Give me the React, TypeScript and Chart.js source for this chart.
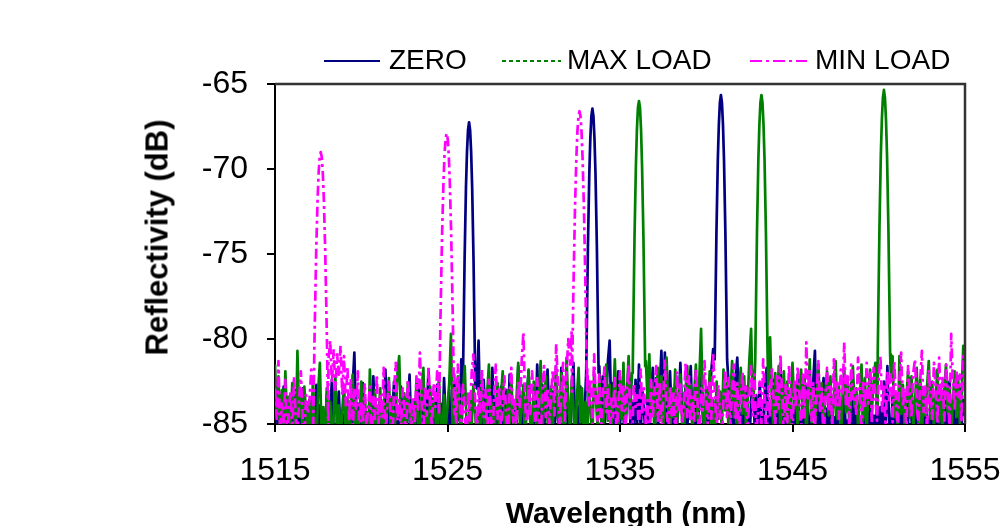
import { useEffect, useRef } from 'react'
import { Chart, registerables } from 'chart.js'

Chart.register(...registerables)

const FONT = 'Liberation Sans, Arial, Helvetica, sans-serif'

// noise traces are sampled every 0.1 nm starting at 1515 nm
const WL_START = 1515
const WL_STEP = 0.1

const xTicks = [1515, 1525, 1535, 1545, 1555]
const yTicks = [-85, -80, -75, -70, -65]

const zeroNoise = [
  -84.9, -83.4, -86.2, -84.1, -85.6, -82.8, -85.0, -86.4, -83.7, -85.3, -84.5, -86.1, -83.0, -85.8, -84.3, -86.5, -82.9, -85.2, -84.0, -86.0,
  -83.6, -85.5, -84.8, -86.3, -82.7, -85.1, -83.9, -86.2, -84.6, -85.7, -83.3, -86.0, -84.2, -82.4, -85.4, -86.6, -84.7, -83.1, -85.9, -84.4,
  -86.1, -83.5, -85.3, -84.0, -86.4, -82.9, -80.8, -85.0, -83.8, -86.2, -84.9, -82.6, -85.6, -84.3, -86.0, -83.4, -85.2, -82.2, -84.7, -86.3,
  -83.9, -85.7, -84.4, -86.1, -81.8, -85.0, -83.2, -86.5, -84.6, -82.5, -85.5, -84.0, -86.2, -82.8, -85.1, -83.6, -86.0, -84.3, -82.1, -85.4,
  -86.3, -83.7, -85.2, -82.4, -84.8, -86.0, -83.1, -85.6, -84.2, -81.9, -85.9, -83.5, -86.4, -84.5, -82.7, -85.3, -83.8, -86.1, -82.3, -84.9,
  -85.6, -83.0, -86.2, -84.1, -82.6, -85.4, -83.7, -84.8, -81.2, -84.0, -84.0, -84.0, -84.0, -84.0, -84.0, -84.0, -84.0, -82.9, -80.1, -84.6,
  -85.8, -82.4, -84.9, -86.3, -83.3, -85.1, -81.7, -84.4, -86.0, -83.6, -85.5, -82.8, -84.7, -86.2, -83.0, -85.3, -82.1, -84.5, -86.4, -83.9,
  -85.0, -81.6, -84.3, -86.1, -82.9, -85.6, -83.4, -81.9, -84.8, -86.0, -83.2, -85.4, -81.5, -84.1, -86.3, -82.7, -85.2, -83.8, -81.8, -84.6,
  -86.2, -83.1, -85.5, -82.3, -84.7, -86.0, -81.7, -84.2, -85.8, -82.5, -84.9, -86.4, -83.5, -81.4, -85.1, -83.9, -86.1, -82.8, -84.5, -85.7,
  -83.0, -84.0, -84.0, -84.0, -84.0, -84.0, -84.0, -84.0, -81.6, -84.5, -82.2, -85.3, -83.6, -81.3, -80.1, -84.8, -82.6, -85.9, -83.4, -81.9,
  -85.2, -82.7, -84.6, -86.1, -83.3, -81.8, -85.0, -83.7, -86.2, -82.4, -84.9, -81.5, -85.5, -83.1, -84.4, -86.0, -82.9, -85.7, -83.6, -81.7,
  -84.7, -82.3, -85.4, -83.0, -80.7, -84.5, -80.8, -85.9, -83.5, -81.9, -84.8, -86.2, -82.6, -85.1, -83.8, -81.4, -84.3, -86.0, -82.8, -85.3,
  -83.2, -81.6, -84.9, -86.3, -82.5, -85.2, -83.9, -81.3, -84.6, -86.1, -82.9, -85.5, -83.4, -81.8, -80.6, -84.0, -84.0, -84.0, -84.0, -84.0,
  -84.0, -84.0, -84.0, -82.7, -85.4, -83.6, -86.0, -82.2, -81.1, -84.7, -86.2, -83.0, -85.6, -82.8, -84.3, -86.1, -83.7, -81.9, -85.0, -83.3,
  -85.8, -82.6, -84.5, -86.2, -83.1, -81.7, -85.3, -83.9, -86.0, -82.4, -84.8, -85.7, -83.2, -81.5, -84.6, -86.3, -82.9, -85.1, -83.6, -84.2,
  -86.1, -83.4, -85.6, -82.1, -84.9, -86.2, -83.0, -85.3, -82.7, -84.4, -86.0, -83.8, -82.5, -80.7, -85.7, -83.2, -86.3, -84.0, -82.3, -85.5,
  -84.1, -86.2, -83.5, -85.8, -84.6, -86.4, -82.8, -85.2, -84.0, -86.1, -83.3, -85.6, -84.8, -86.3, -82.6, -85.0, -83.9, -86.0, -84.4, -85.5,
  -86.2, -83.7, -85.3, -84.2, -86.5, -82.9, -85.7, -84.5, -86.0, -83.1, -85.4, -84.0, -86.3, -82.5, -85.1, -81.6, -84.8, -86.1, -83.4, -85.6,
  -84.3, -86.2, -82.8, -85.5, -84.0, -86.4, -83.6, -85.0, -82.3, -84.7, -86.1, -83.9, -85.8, -84.4, -82.6, -85.3, -86.0, -83.2, -84.9, -86.3,
  -83.5, -85.7, -84.1, -86.0, -82.7, -85.2, -84.6, -86.4, -83.0, -85.9, -84.3, -82.5, -85.4, -86.2, -83.8, -84.8, -86.1, -82.9, -85.0, -83.6,
  -84.5,
]

const maxNoise = [
  -81.5, -84.3, -82.2, -85.7, -83.0, -86.0, -81.9, -84.8, -83.4, -85.5, -82.6, -84.1, -86.2, -80.7, -84.6, -83.2, -85.9, -82.8, -84.4, -86.1,
  -83.6, -85.3, -82.4, -84.9, -86.3, -83.1, -81.4, -85.6, -84.0, -86.5, -82.9, -85.0, -83.7, -86.2, -84.5, -82.3, -85.8, -83.9, -86.0, -84.2,
  -82.7, -85.4, -83.5, -86.4, -84.1, -82.1, -85.2, -83.8, -86.1, -84.6, -82.5, -85.7, -83.3, -84.9, -86.3, -81.8, -84.4, -85.9, -83.0, -86.0,
  -84.7, -82.9, -85.5, -83.6, -86.2, -84.0, -82.3, -85.1, -83.4, -85.8, -84.5, -82.0, -81.0, -84.8, -86.1, -83.2, -85.4, -82.6, -84.3, -86.0,
  -83.8, -85.6, -82.4, -84.9, -86.4, -83.1, -81.7, -85.0, -84.2, -86.2, -82.8, -85.3, -83.5, -84.6, -86.0, -82.1, -84.8, -85.7, -83.3, -85.1,
  -84.0, -82.6, -79.7, -85.4, -83.7, -86.3, -82.2, -84.5, -85.9, -83.0, -81.6, -84.9, -86.1, -83.4, -85.2, -82.7, -84.3, -86.0, -83.9, -85.6,
  -82.3, -84.8, -86.2, -83.2, -81.5, -85.0, -83.8, -86.4, -84.1, -82.6, -85.5, -83.4, -81.9, -84.7, -86.0, -83.0, -85.3, -82.4, -84.6, -86.1,
  -83.5, -81.4, -85.2, -84.0, -82.7, -86.3, -83.6, -81.8, -84.9, -85.7, -82.5, -84.2, -86.0, -83.1, -81.3, -85.4, -83.9, -82.2, -84.8, -86.2,
  -82.8, -85.1, -83.3, -81.6, -84.5, -86.1, -82.0, -84.7, -85.6, -81.1, -83.8, -85.3, -82.4, -84.0, -86.2, -83.5, -81.7, -84.9, -82.9, -85.5,
  -83.7, -86.0, -82.5, -84.3, -85.8, -81.9, -83.4, -85.2, -82.1, -84.6, -86.3, -83.0, -81.5, -84.8, -82.7, -85.6, -83.9, -81.2, -84.4, -85.9,
  -82.4, -84.7, -81.4, -85.5, -83.1, -81.0, -84.2, -82.0, -84.0, -84.0, -84.0, -84.0, -84.0, -84.0, -84.0, -81.3, -83.6, -80.9, -84.5, -82.6,
  -85.8, -83.3, -81.7, -84.8, -82.2, -85.4, -83.8, -81.1, -84.1, -86.0, -82.9, -84.6, -81.8, -85.2, -83.5, -82.1, -84.9, -86.2, -83.0, -81.6,
  -84.3, -82.7, -85.6, -83.2, -81.5, -84.8, -82.3, -79.4, -84.0, -85.7, -82.8, -84.4, -81.9, -85.1, -83.6, -86.1, -82.5, -84.7, -83.1, -85.3,
  -81.8, -84.2, -82.6, -85.5, -83.4, -81.3, -84.6, -82.9, -85.9, -83.0, -81.7, -84.4, -82.2, -85.2, -83.7, -81.2, -79.4, -84.0, -82.4, -84.0,
  -84.0, -84.0, -84.0, -84.0, -84.0, -84.0, -82.8, -79.9, -83.5, -85.4, -82.0, -84.3, -81.6, -85.7, -83.2, -81.9, -84.8, -82.5, -86.0, -83.6,
  -81.4, -84.1, -82.7, -85.3, -83.0, -81.8, -84.6, -82.3, -85.8, -83.5, -81.2, -84.9, -82.9, -85.1, -83.7, -81.5, -84.2, -82.6, -85.6, -83.3,
  -81.9, -84.5, -82.2, -85.0, -83.8, -81.3, -84.7, -82.8, -86.1, -83.4, -81.7, -84.3, -82.5, -85.5, -83.1, -81.6, -84.0, -82.9, -85.2, -83.6,
  -81.5, -84.8, -82.3, -85.4, -83.0, -81.8, -84.2, -82.6, -81.4, -84.0, -84.0, -84.0, -84.0, -84.0, -84.0, -84.0, -84.0, -82.2, -81.0, -84.6,
  -83.2, -85.7, -81.0, -84.4, -82.7, -85.1, -83.5, -81.9, -84.6, -82.2, -85.3, -83.8, -81.7, -84.9, -82.4, -85.6, -83.1, -84.5, -82.8, -81.3,
  -84.7, -82.5, -85.2, -83.4, -81.8, -84.9, -82.7, -85.5, -83.0, -81.5, -84.3, -82.9, -85.8, -83.6, -81.9, -84.6, -82.2, -85.0, -83.3, -80.4,
  -82.0,
]

const minNoise = [
  -82.9, -84.7, -81.3, -85.6, -83.8, -84.9, -82.4, -86.1, -84.2, -83.1, -85.4, -82.2, -84.6, -85.9, -83.5, -81.9, -84.8, -86.0, -83.3, -84.4,
  -83.6, -81.8, -82.5, -84.0, -84.0, -84.0, -84.0, -84.0, -84.0, -84.0, -84.0, -81.2, -80.1, -82.6, -80.6, -83.0, -80.9, -82.1, -80.4, -83.3,
  -81.0, -83.9, -81.6, -84.8, -82.3, -85.7, -83.0, -84.1, -81.9, -86.2, -83.7, -84.9, -82.6, -85.3, -84.0, -82.8, -86.0, -83.4, -84.7, -82.1,
  -85.1, -83.2, -84.6, -81.7, -85.8, -83.9, -82.5, -84.4, -86.3, -83.0, -81.4, -84.8, -83.6, -85.5, -82.9, -84.1, -86.0, -82.4, -83.8, -85.2,
  -83.4, -85.0, -82.2, -84.3, -80.8, -83.7, -85.6, -82.8, -84.5, -81.6, -83.9, -85.2, -82.6, -84.0, -81.9, -83.3, -84.0, -84.0, -84.0, -84.0,
  -84.0, -84.0, -84.0, -84.0, -82.1, -84.9, -81.5, -83.6, -85.4, -82.7, -84.2, -86.1, -83.1, -84.8, -82.0, -80.9, -83.5, -85.7, -82.9, -84.3,
  -81.8, -84.6, -83.0, -85.9, -82.4, -84.1, -86.4, -83.3, -81.5, -84.7, -82.8, -85.3, -83.9, -82.2, -84.5, -86.0, -83.2, -81.7, -84.9, -83.6,
  -85.2, -82.5, -84.0, -81.3, -79.6, -83.8, -85.5, -82.7, -84.4, -81.9, -83.5, -85.8, -82.3, -84.2, -86.1, -83.0, -81.6, -84.6, -82.9, -85.0,
  -83.4, -81.8, -84.5, -80.3, -82.6, -85.1, -83.2, -81.4, -84.8, -82.0, -80.0, -81.5, -79.5, -84.0, -84.0, -84.0, -84.0, -84.0, -84.0, -84.0,
  -84.0, -81.7, -83.9, -82.4, -85.0, -80.9, -83.6, -84.8, -82.1, -85.6, -83.3, -81.6, -84.3, -82.8, -85.9, -83.5, -84.6, -82.3, -86.0, -83.8,
  -81.9, -84.2, -82.7, -85.4, -83.1, -81.5, -84.9, -86.2, -82.6, -84.0, -83.3, -85.7, -81.8, -84.4, -82.9, -85.1, -83.6, -86.3, -82.4, -84.7,
  -83.0, -81.6, -84.8, -82.5, -85.3, -83.7, -81.2, -84.1, -86.0, -82.8, -84.5, -83.2, -85.8, -81.9, -84.3, -82.6, -85.0, -83.9, -81.4, -84.6,
  -82.2, -85.5, -83.4, -84.9, -81.7, -83.8, -86.1, -82.9, -84.2, -81.3, -83.6, -85.2, -82.4, -84.7, -80.8, -83.1, -85.6, -82.7, -84.4, -86.0,
  -83.5, -81.8, -84.6, -82.3, -85.1, -83.0, -81.5, -84.8, -82.6, -85.9, -83.7, -81.9, -84.0, -82.8, -85.4, -83.3, -81.6, -84.5, -82.1, -85.7,
  -84.2, -82.5, -85.0, -81.2, -83.9, -86.2, -82.8, -84.6, -81.7, -83.5, -85.3, -82.0, -84.1, -80.9, -83.4, -85.8, -82.7, -84.9, -81.5, -83.8,
  -85.5, -82.4, -84.0, -81.6, -83.2, -85.7, -82.1, -84.6, -80.2, -83.5, -81.9, -84.8, -82.6, -85.2, -83.0, -81.3, -84.4, -82.9, -86.0, -83.6,
  -81.7, -84.3, -82.8, -85.1, -81.2, -83.9, -82.4, -84.7, -81.8, -83.3, -80.2, -84.0, -82.2, -85.4, -81.5, -83.7, -82.9, -84.5, -81.1, -83.2,
  -85.6, -82.6, -84.1, -81.4, -83.8, -82.0, -85.0, -81.7, -83.4, -84.8, -82.3, -81.0, -84.4, -82.7, -85.3, -81.9, -83.6, -82.1, -84.9, -81.3,
  -83.7, -85.2, -82.4, -80.8, -84.0, -82.9, -85.7, -81.6, -83.3, -84.6, -82.0, -81.2, -83.9, -85.1, -82.5, -80.7, -84.3, -82.8, -85.5, -81.8,
  -83.5, -84.7, -81.4, -82.9, -85.0, -81.1, -83.7, -82.3, -84.8, -81.5, -83.0, -85.3, -79.7, -82.6, -84.2, -81.8, -83.4, -82.1, -84.9, -81.0,
  -82.7,
]

// grating peaks, [wavelength nm, dB]
const zeroPeaks = [
  [[1525.89, -82.8], [1525.99, -75.4], [1526.07, -71.1], [1526.13, -69.0], [1526.19, -67.7], [1526.25, -67.25],
   [1526.31, -67.7], [1526.37, -69.0], [1526.43, -71.1], [1526.51, -75.4], [1526.61, -82.8]],
  [[1533.04, -82.0], [1533.14, -74.6], [1533.22, -70.3], [1533.28, -68.2], [1533.34, -66.9], [1533.4, -66.45],
   [1533.46, -66.9], [1533.52, -68.2], [1533.58, -70.3], [1533.66, -74.6], [1533.76, -82.0]],
  [[1540.49, -81.2], [1540.59, -73.8], [1540.67, -69.5], [1540.73, -67.4], [1540.79, -66.1], [1540.85, -65.65],
   [1540.91, -66.1], [1540.97, -67.4], [1541.03, -69.5], [1541.11, -73.8], [1541.21, -81.2]],
]

const maxPeaks = [
  [[1535.74, -81.6], [1535.84, -74.1], [1535.92, -69.9], [1535.98, -67.7], [1536.04, -66.4], [1536.1, -66.0],
   [1536.16, -66.4], [1536.22, -67.7], [1536.28, -69.9], [1536.36, -74.1], [1536.46, -81.6]],
  [[1542.84, -81.2], [1542.94, -73.8], [1543.02, -69.5], [1543.08, -67.4], [1543.14, -66.1], [1543.2, -65.65],
   [1543.26, -66.1], [1543.32, -67.4], [1543.38, -69.5], [1543.46, -73.8], [1543.56, -81.2]],
  [[1549.94, -80.9], [1550.04, -73.5], [1550.12, -69.2], [1550.18, -67.1], [1550.24, -65.8], [1550.3, -65.35],
   [1550.36, -65.8], [1550.42, -67.1], [1550.48, -69.2], [1550.56, -73.5], [1550.66, -80.9]],
]

const minPeaks = [
  [[1517.21, -85.5], [1517.29, -80.0], [1517.39, -74.75], [1517.47, -71.75], [1517.53, -70.2], [1517.59, -69.3], [1517.65, -69.0],
   [1517.71, -69.3], [1517.77, -70.2], [1517.83, -71.75], [1517.91, -74.75], [1518.01, -80.0], [1518.09, -85.5]],
  [[1524.51, -84.4], [1524.59, -78.9], [1524.69, -73.65], [1524.77, -70.65], [1524.83, -69.1], [1524.89, -68.2], [1524.95, -67.9],
   [1525.01, -68.2], [1525.07, -69.1], [1525.13, -70.65], [1525.21, -73.65], [1525.31, -78.9], [1525.39, -84.4]],
  [[1532.21, -83.1], [1532.29, -77.6], [1532.39, -72.35], [1532.47, -69.35], [1532.53, -67.8], [1532.59, -66.9], [1532.65, -66.6],
   [1532.71, -66.9], [1532.77, -67.8], [1532.83, -69.35], [1532.91, -72.35], [1533.01, -77.6], [1533.09, -83.1]],
]

type Pt = { x: number; y: number }

// noise samples that fall under a peak are replaced by the peak's points
function trace(noise: number[], peaks: number[][][]): Pt[] {
  const spans = peaks.map((p) => [p[0][0], p[p.length - 1][0]])
  const pts: Pt[] = []
  noise.forEach((y, i) => {
    const x = +(WL_START + i * WL_STEP).toFixed(2)
    if (!spans.some(([a, b]) => x >= a && x <= b)) pts.push({ x, y })
  })
  peaks.forEach((p) => p.forEach(([x, y]) => pts.push({ x, y })))
  return pts.sort((a, b) => a.x - b.x)
}

const frame = {
  id: 'frame',
  afterDraw(chart: Chart) {
    const { ctx, chartArea: a } = chart
    ctx.save()
    ctx.strokeStyle = '#333'
    ctx.lineWidth = 2.5
    ctx.beginPath()
    ctx.moveTo(a.left, a.top)
    ctx.lineTo(a.right, a.top)
    ctx.lineTo(a.right, a.bottom)
    ctx.stroke()
    ctx.restore()
  },
}

function LegendItem({ x1, x2, tx, label, color, dash }: { x1: number; x2: number; tx: number; label: string; color: string; dash?: string }) {
  return (
    <>
      <svg width={x2 - x1} height={4} style={{ position: 'absolute', left: x1, top: 59 }}>
        <line x1={0} y1={2} x2={x2 - x1} y2={2} stroke={color} strokeWidth={2} strokeDasharray={dash} />
      </svg>
      <span style={{ position: 'absolute', left: tx, top: 46, fontSize: 28, lineHeight: '28px', whiteSpace: 'nowrap' }}>{label}</span>
    </>
  )
}

export default function App() {
  const ref = useRef<HTMLCanvasElement>(null)

  useEffect(() => {
    if (!ref.current) return
    const tickFont = { family: FONT, size: 32 }
    const chart = new Chart(ref.current, {
      type: 'line',
      data: {
        datasets: [
          {
            label: 'ZERO',
            data: trace(zeroNoise, zeroPeaks),
            borderColor: '#000080',
            order: 2,
          },
          {
            label: 'MAX LOAD',
            data: trace(maxNoise, maxPeaks),
            borderColor: '#008000',
            order: 1,
          },
          {
            label: 'MIN LOAD',
            data: trace(minNoise, minPeaks),
            borderColor: '#ff00ff',
            borderDash: [10, 4, 3, 4],
            order: 0,
          },
        ],
      },
      options: {
        animation: false,
        responsive: false,
        events: [],
        layout: { padding: { left: 0, right: 35, top: 84, bottom: 0 }, autoPadding: false },
        elements: {
          point: { radius: 0 },
          line: { borderWidth: 2.7, tension: 0, borderJoinStyle: 'round', fill: false },
        },
        plugins: { legend: { display: false }, tooltip: { enabled: false } },
        scales: {
          x: {
            type: 'linear',
            min: 1515,
            max: 1555,
            afterBuildTicks: (s) => {
              s.ticks = xTicks.map((value) => ({ value }))
            },
            afterFit: (s) => {
              s.height = 102
              s.paddingLeft = 0
              s.paddingRight = 0
            },
            ticks: { font: tickFont, color: '#000', padding: 20, maxRotation: 0, autoSkip: false, callback: (v) => String(v) },
            grid: { drawOnChartArea: false, tickLength: 8, color: '#000', lineWidth: 2 },
            border: { color: '#000', width: 2 },
          },
          y: {
            min: -85,
            max: -65,
            afterBuildTicks: (s) => {
              s.ticks = yTicks.map((value) => ({ value }))
            },
            afterFit: (s) => {
              s.width = 275
              s.paddingTop = 0
              s.paddingBottom = 0
            },
            ticks: { font: tickFont, color: '#000', padding: 19, callback: (v) => String(v) },
            grid: { drawOnChartArea: false, tickLength: 8, color: '#000', lineWidth: 2 },
            border: { color: '#000', width: 2 },
          },
        },
      },
      plugins: [frame],
    })
    return () => chart.destroy()
  }, [])

  return (
    <div
      style={{
        position: 'fixed',
        left: 0,
        top: 0,
        width: 1000,
        height: 526,
        overflow: 'hidden',
        background: '#fff',
        fontFamily: FONT,
        color: '#000',
      }}
    >
      <canvas ref={ref} width={1000} height={526} style={{ position: 'absolute', left: 0, top: 0 }} />
      <LegendItem x1={324} x2={380} tx={389} label="ZERO" color="#000080" />
      <LegendItem x1={502} x2={561} tx={567} label="MAX LOAD" color="#008000" dash="4 3" />
      <LegendItem x1={750} x2={807} tx={815} label="MIN LOAD" color="#ff00ff" dash="12 4 3 4" />
      <div
        style={{
          position: 'absolute',
          left: 157 - 150,
          top: 237 - 15.5,
          width: 300,
          height: 31,
          lineHeight: '31px',
          textAlign: 'center',
          fontSize: 31,
          fontWeight: 'bold',
          transform: 'rotate(-90deg)',
          whiteSpace: 'nowrap',
        }}
      >
        Reflectivity (dB)
      </div>
      <div
        style={{
          position: 'absolute',
          left: 626 - 200,
          top: 498,
          width: 400,
          lineHeight: '30px',
          textAlign: 'center',
          fontSize: 30,
          fontWeight: 'bold',
          whiteSpace: 'nowrap',
        }}
      >
        Wavelength (nm)
      </div>
    </div>
  )
}
